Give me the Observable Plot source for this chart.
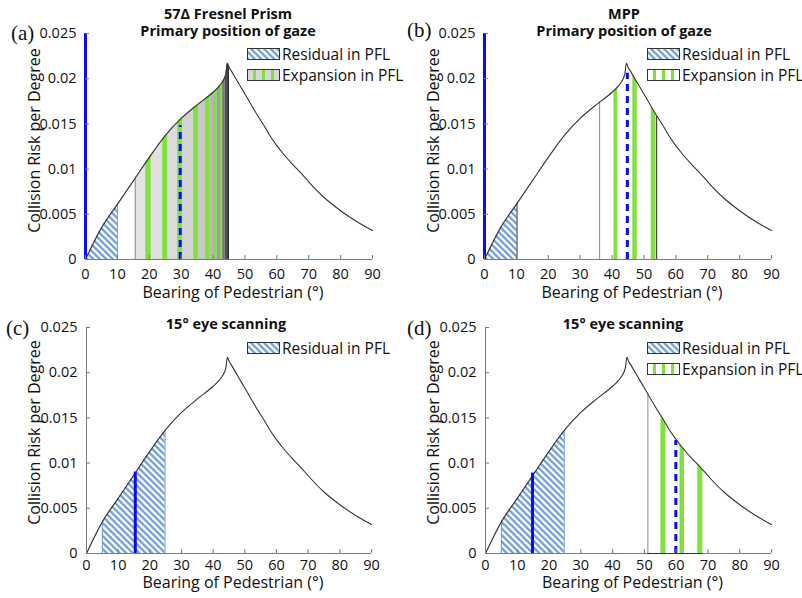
<!DOCTYPE html>
<html><head><meta charset="utf-8">
<script src="https://cdn.jsdelivr.net/npm/d3@7"></script>
<script src="https://cdn.jsdelivr.net/npm/@observablehq/plot@0.6"></script>
<style>
body{margin:0;background:#fff;}
#root{position:relative;width:802px;height:598px;overflow:hidden;font-family:"Open Sans",sans-serif;background:#fff;}
.panel{position:absolute;width:400px;height:300px;}
.panel svg.plot{position:absolute;left:0;top:0;overflow:visible;}
.title{position:absolute;font-weight:bold;font-size:14.5px;text-align:center;line-height:16.6px;color:#111;white-space:nowrap;transform:translateX(-50%);}
.plabel{position:absolute;font-family:"Liberation Serif",serif;font-size:21px;line-height:21px;color:#111;}
.legend{position:absolute;font-size:15.5px;color:#111;}
.legend .row{display:flex;align-items:center;height:21px;white-space:nowrap;}
.legend .row svg{display:block;margin-right:2px;}
</style></head><body>
<svg width="0" height="0" style="position:absolute">
<defs>
<pattern id="hatch" patternUnits="userSpaceOnUse" width="4.6" height="4.6" patternTransform="rotate(-45)">
<rect width="4.6" height="4.6" fill="#ffffff"/>
<line x1="2.3" y1="0" x2="2.3" y2="4.6" stroke="#5b8ed6" stroke-width="2"/>
</pattern>
</defs></svg>
<div id="root"></div>
<script>
// ---- curve ----
const bearing = [0, 5, 10, 15, 20, 25, 30, 35, 40, 42, 43, 44, 44.5, 45, 46, 48, 50, 52, 54, 56, 58, 60, 62, 65, 68, 70, 75, 80, 85, 90];
const risk = [0, 0.0035, 0.0061, 0.0087, 0.0113, 0.0137, 0.0156, 0.0171, 0.0185, 0.0192, 0.0197, 0.0205, 0.0217, 0.0213, 0.0207, 0.0195, 0.0183, 0.0171, 0.0159, 0.0148, 0.0136, 0.0126, 0.0117, 0.0105, 0.0094, 0.0086, 0.0068, 0.0054, 0.0042, 0.0032];

// ---- axis ticks ----
const xTicks = [0, 10, 20, 30, 40, 50, 60, 70, 80, 90];
const yTicks = [0, 0.005, 0.01, 0.015, 0.02, 0.025];
const xLabel = "Bearing of Pedestrian (°)";
const yLabel = "Collision Risk per Degree";

// ---- titles & labels ----
const titleA = ["57Δ Fresnel Prism", "Primary position of gaze"];
const titleB = ["MPP", "Primary position of gaze"];
const titleC = ["15° eye scanning"];
const titleD = ["15° eye scanning"];
const panelLabels = ["(a)", "(b)", "(c)", "(d)"];
const legendResidual = "Residual in PFL";
const legendExpansion = "Expansion in PFL";

// ---- residual (hatched) ranges ----
const residualA = [0, 10];
const residualB = [0, 10.2];
const residualC = [5, 24.8];
const residualD = [5, 24.8];

// ---- panel (a): prism expansion bands ----
const bandStartA = [15.6, 20.6, 25.8, 30.5, 35.4, 39.0, 41.2, 43.0, 43.8, 44.3];
const bandEndA   = [20.6, 25.8, 30.5, 35.4, 39.0, 41.2, 43.0, 43.8, 44.3, 44.8];
const bandShadeA = ["#e4e4e4", "#e0e0e0", "#dbdbdb", "#d3d3d3", "#c8c8c8", "#b6b6b6", "#9c9c9c", "#777777", "#4c4c4c", "#2c2c2c"];
const stripeStartA = [18.9, 24.2, 28.9, 33.9, 37.7, 40.2, 42.3];
const stripeEndA   = [20.6, 25.8, 30.5, 35.4, 39.0, 41.2, 43.0];

// ---- panel (b) ----
const stripeStartB = [40.6, 46.5, 52.3];
const stripeEndB   = [41.8, 47.9, 53.8];
const expansionB = [36.1, 54];

// ---- panel (d) ----
const stripeStartD = [55.2, 61.2, 66.8];
const stripeEndD   = [56.8, 62.6, 68.4];
const expansionD = [51.1, 68.4];

// ---- blue lines: [bearing, top risk] ----
const blueSolidA = [[0, 0.025]];
const blueDashA = [[29.7, 0.0148]];
const blueSolidB = [[0, 0.025]];
const blueDashB = [[44.8, 0.0206]];
const blueSolidC = [[15.4, 0.0090]];
const blueSolidD = [[14.8, 0.0089]];
const blueDashD = [[59.9, 0.0125]];

// ---- colours ----
const GREEN = "#7fe13b";
const BLUE = "#0a0aff";
const AXIS = "#7a7a7a";
const HATCH_EDGE = "#6f9ad8";

const curveData = bearing.map((b, i) => ({b, r: risk[i]}));
const yTop = yTicks[yTicks.length - 1];

function zipRanges(s, e, extra) {
  return s.map((v, i) => Object.assign({x1: v, x2: e[i]}, extra ? {shade: extra[i]} : {}));
}

function makePlot(cfg) {
  const marks = [];
  marks.push(Plot.rect([cfg.residual], {x1: d => d[0], x2: d => d[1], y1: 0, y2: yTop, fill: "url(#hatch)"}));
  if (cfg.bands) marks.push(Plot.rect(cfg.bands, {x1: "x1", x2: "x2", y1: 0, y2: yTop, fill: "shade"}));
  if (cfg.stripes) marks.push(Plot.rect(cfg.stripes, {x1: "x1", x2: "x2", y1: 0, y2: yTop, fill: GREEN}));
  marks.push(Plot.ruleX(cfg.edges, {x: "x", stroke: "c", strokeWidth: 1}));
  // mask everything above the curve
  marks.push(Plot.areaY(curveData, {x: "b", y1: "r", y2: yTop, fill: "white", curve: "monotone-x"}));
  marks.push(Plot.ruleY([0], {stroke: AXIS}));
  marks.push(Plot.ruleX([0], {stroke: AXIS}));
  if (cfg.expansionBottom) marks.push(Plot.ruleY([0], {x1: cfg.expansionBottom[0], x2: cfg.expansionBottom[1], stroke: "#333"}));
  marks.push(Plot.line(curveData, {x: "b", y: "r", stroke: "#333", strokeWidth: 1.1, curve: "monotone-x"}));
  if (cfg.blueSolid) marks.push(Plot.ruleX(cfg.blueSolid, {x: d => d[0], y1: 0, y2: d => d[1], stroke: BLUE, strokeWidth: 3}));
  if (cfg.blueDash) marks.push(Plot.ruleX(cfg.blueDash, {x: d => d[0], y1: 0, y2: d => d[1], stroke: BLUE, strokeWidth: 3, strokeDasharray: "7,5"}));
  // inward tick marks
  marks.push(Plot.axisX({ticks: xTicks, tickSize: 4, dy: -4, tickFormat: () => "", label: null, stroke: AXIS}));
  marks.push(Plot.axisY({ticks: yTicks, tickSize: 4, dx: 4, tickFormat: () => "", label: null, stroke: AXIS}));
  // tick labels
  marks.push(Plot.axisX({ticks: xTicks, tickSize: 0, tickPadding: cfg.xPad, tickFormat: d => String(d), label: null}));
  marks.push(Plot.axisY({ticks: yTicks, tickSize: 0, tickPadding: 9, tickFormat: d => String(d), label: null}));
  // axis titles
  marks.push(Plot.text([xLabel], {text: d => d, frameAnchor: "bottom", textAnchor: "middle", lineAnchor: "bottom", dx: 4, dy: cfg.xlabDy, fontSize: 16}));
  marks.push(Plot.text([yLabel], {text: d => d, frameAnchor: "left", textAnchor: "middle", lineAnchor: "top", rotate: -90, dx: cfg.ylabDx, dy: cfg.ylabDy, fontSize: 16}));

  return Plot.plot({
    width: 400, height: 300,
    marginLeft: cfg.ml, marginRight: cfg.mr, marginTop: cfg.mt, marginBottom: cfg.mb,
    x: {domain: [xTicks[0], xTicks[xTicks.length - 1]]},
    y: {domain: [yTicks[0], yTop]},
    color: {type: "identity"},
    style: {fontFamily: "Open Sans", fontSize: "14.5px", color: "#111", background: "transparent", overflow: "visible"},
    marks
  });
}

function swatch(kind, expansionFill) {
  const w = 33, h = 12;
  let inner = "";
  if (kind === "res") {
    inner = `<rect x="0.5" y="0.5" width="${w - 1}" height="${h - 1}" fill="url(#hatch)" stroke="#333" stroke-width="1"/>`;
  } else {
    inner = `<rect x="0.5" y="0.5" width="${w - 1}" height="${h - 1}" fill="${expansionFill}"/>`;
    for (const sx of [6, 15, 24]) inner += `<rect x="${sx}" y="0.5" width="3" height="${h - 1}" fill="${GREEN}"/>`;
    inner += `<rect x="0.5" y="0.5" width="${w - 1}" height="${h - 1}" fill="none" stroke="#333" stroke-width="1"/>`;
  }
  return `<svg width="${w}" height="${h}">${inner}</svg>`;
}

const panels = [
  {left: 0, top: 0, ml: 85, mr: 28, mt: 33, mb: 41, xPad: 9, xlabDy: 38, ylabDx: -57, ylabDy: -6,
   residual: residualA, bands: zipRanges(bandStartA, bandEndA, bandShadeA), stripes: zipRanges(stripeStartA, stripeEndA),
   edges: [{x: residualA[1], c: HATCH_EDGE}, {x: bandStartA[0], c: "#8a8a8a"}, {x: bandEndA[bandEndA.length - 1], c: "#111"}],
   blueSolid: blueSolidA, blueDash: blueDashA,
   title: titleA, tx: 228, ttop: 6, label: panelLabels[0], lx: 11, ly: 23,
   legend: {x: 247, y: 43, rows: [["res"], ["exp", "#d8d8d8"]]}},
  {left: 400, top: 0, ml: 84, mr: 29, mt: 33, mb: 41, xPad: 9, xlabDy: 38, ylabDx: -57, ylabDy: -6,
   residual: residualB, stripes: zipRanges(stripeStartB, stripeEndB),
   edges: [{x: residualB[1], c: "#333"}, {x: expansionB[0], c: "#8a8a8a"}, {x: expansionB[1], c: "#222"}],
   blueSolid: blueSolidB, blueDash: blueDashB,
   title: titleB, tx: 224, ttop: 6, label: panelLabels[1], lx: 7, ly: 20,
   legend: {x: 247, y: 43, rows: [["res"], ["exp", "#ffffff"]]}},
  {left: 0, top: 300, ml: 86, mr: 29, mt: 27, mb: 47, xPad: 6, xlabDy: 34.5, ylabDx: -58, ylabDy: -8,
   residual: residualC,
   edges: [{x: residualC[0], c: HATCH_EDGE}, {x: residualC[1], c: HATCH_EDGE}],
   blueSolid: blueSolidC,
   title: titleC, tx: 226, ttop: 16, label: panelLabels[2], lx: 6, ly: 18,
   legend: {x: 247, y: 37, rows: [["res"]]}},
  {left: 400, top: 300, ml: 85, mr: 29, mt: 27, mb: 47, xPad: 6, xlabDy: 34.5, ylabDx: -58, ylabDy: -8,
   residual: residualD, stripes: zipRanges(stripeStartD, stripeEndD),
   edges: [{x: residualD[0], c: HATCH_EDGE}, {x: residualD[1], c: HATCH_EDGE}, {x: expansionD[0], c: "#8a8a8a"}],
   expansionBottom: expansionD,
   blueSolid: blueSolidD, blueDash: blueDashD,
   title: titleD, tx: 223, ttop: 16, label: panelLabels[3], lx: 7, ly: 18,
   legend: {x: 247, y: 37, rows: [["res"], ["exp", "#ffffff"]]}}
];

const root = document.getElementById("root");
for (const p of panels) {
  const div = document.createElement("div");
  div.className = "panel";
  div.style.left = p.left + "px";
  div.style.top = p.top + "px";
  const svg = makePlot(p);
  svg.classList.add("plot");
  div.appendChild(svg);

  const t = document.createElement("div");
  t.className = "title";
  t.style.left = p.tx + "px";
  t.style.top = p.ttop + "px";
  t.innerHTML = p.title.join("<br>");
  div.appendChild(t);

  const l = document.createElement("div");
  l.className = "plabel";
  l.style.left = p.lx + "px";
  l.style.top = p.ly + "px";
  l.textContent = p.label;
  div.appendChild(l);

  const lg = document.createElement("div");
  lg.className = "legend";
  lg.style.left = p.legend.x + "px";
  lg.style.top = p.legend.y + "px";
  lg.innerHTML = p.legend.rows.map(r => `<div class="row">${swatch(r[0], r[1])}<span>${r[0] === "res" ? legendResidual : legendExpansion}</span></div>`).join("");
  div.appendChild(lg);

  root.appendChild(div);
}
</script>
</body></html>
